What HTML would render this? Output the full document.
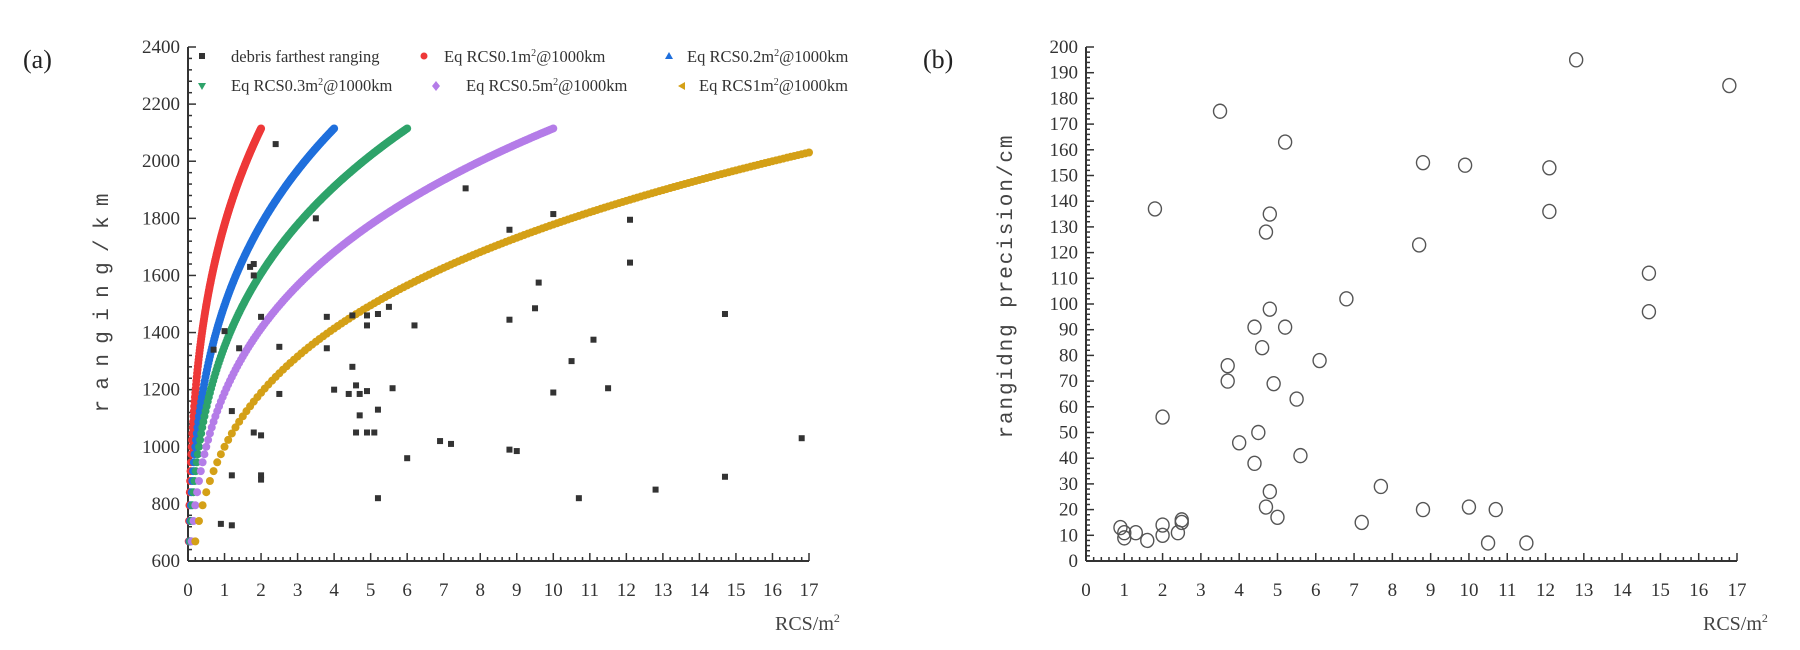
<!DOCTYPE html>
<html><head><meta charset="utf-8"><style>
html,body{margin:0;padding:0;background:#fff;}
svg{display:block;font-family:"Liberation Serif",serif;}
</style></head><body>
<svg id="s" width="1800" height="650" xmlns="http://www.w3.org/2000/svg"></svg>
<script>
const s=document.getElementById('s');let h='';
const L={x0:188,x1:809,y0:561,y1:47};
const R={x0:1086,x1:1737,y0:561,y1:47};
const lx=v=>L.x0+(L.x1-L.x0)*v/17, ly=v=>L.y0-(L.y0-L.y1)*(v-600)/1800;
const rx=v=>R.x0+(R.x1-R.x0)*v/17, ry=v=>R.y0-(R.y0-R.y1)*v/200;
function axes(P,fx,fy,ymin,ymax,ystep,yminor){
 h+=`<line x1="${P.x0}" y1="${P.y0}" x2="${P.x1}" y2="${P.y0}" stroke="#333" stroke-width="2"/>`;
 h+=`<line x1="${P.x0}" y1="${P.y0}" x2="${P.x0}" y2="${P.y1}" stroke="#333" stroke-width="2"/>`;
 for(let i=0;i<=85;i++){const v=i/5,x=fx(v),m=i%5==0;h+=`<line x1="${x}" y1="${P.y0}" x2="${x}" y2="${P.y0-(m?8:4)}" stroke="#333" stroke-width="1.5"/>`;
  if(m)h+=`<text x="${x}" y="596" font-size="19" text-anchor="middle" fill="#333">${v}</text>`;}
 for(let v=ymin;v<=ymax+1e-6;v+=yminor){const y=fy(v),m=Math.abs((v-ymin)%ystep)<1e-6;h+=`<line x1="${P.x0}" y1="${y}" x2="${P.x0+(m?8:4)}" y2="${y}" stroke="#333" stroke-width="1.5"/>`;
  if(m)h+=`<text x="${P.x0-8}" y="${y+6}" font-size="19" text-anchor="end" fill="#333">${v}</text>`;}
}
axes(L,lx,ly,600,2400,200,40);
axes(R,rx,ry,0,200,10,2);
const cs=[[0.1,'#ee3838',2],[0.2,'#1f6fdc',4],[0.3,'#2ea36a',6],[0.5,'#b47ce8',10],[1,'#d4a017',17]];
for(const [s0,c,xm] of cs){for(let k=1;;k++){const x=k*s0*0.1;if(x>xm+1e-9)break;const r=1000*Math.pow(x/s0,0.25);if(r<640)continue;
 h+=`<circle cx="${lx(x)}" cy="${ly(r)}" r="4" fill="${c}"/>`;}}
const D=[[2.4,2060],[3.5,1800],[7.6,1905],[10,1815],[12.1,1795],[8.8,1760],[12.1,1645],[1.7,1630],[1.8,1640],[1.8,1600],[9.6,1575],[2,1455],[3.8,1455],[4.5,1460],[4.9,1460],[5.2,1465],[5.5,1490],[9.5,1485],[8.8,1445],[4.9,1425],[6.2,1425],[14.7,1465],[1,1405],[0.7,1340],[1.4,1345],[2.5,1350],[3.8,1345],[11.1,1375],[10.5,1300],[4.5,1280],[4.0,1200],[4.4,1185],[4.6,1215],[4.7,1185],[4.9,1195],[5.6,1205],[2.5,1185],[10,1190],[11.5,1205],[1.2,1125],[4.7,1110],[5.2,1130],[1.8,1050],[2,1040],[4.6,1050],[4.9,1050],[5.1,1050],[6.9,1020],[7.2,1010],[8.8,990],[9,985],[16.8,1030],[6,960],[1.2,900],[2,900],[2,885],[14.7,895],[12.8,850],[5.2,820],[10.7,820],[0.9,730],[1.2,725]];
for(const [x,y] of D)h+=`<rect x="${lx(x)-3}" y="${ly(y)-3}" width="6" height="6" fill="#333"/>`;
const Q=[[0.9,13],[1,9],[1,11],[1.3,11],[1.6,8],[2,10],[2,14],[2.4,11],[2.5,15],[2.5,16],[1.8,137],[2,56],[3.5,175],[3.7,76],[3.7,70],[4,46],[4.4,38],[4.4,91],[4.6,83],[4.5,50],[4.7,128],[4.8,135],[4.8,98],[4.9,69],[4.7,21],[4.8,27],[5,17],[5.2,91],[5.2,163],[5.5,63],[5.6,41],[6.1,78],[6.8,102],[7.2,15],[7.7,29],[8.8,155],[8.7,123],[8.8,20],[9.9,154],[10,21],[10.5,7],[10.7,20],[11.5,7],[12.1,153],[12.1,136],[12.8,195],[14.7,112],[14.7,97],[16.8,185]];
for(const [x,y] of Q)h+=`<ellipse cx="${rx(x)}" cy="${ry(y)}" rx="6.5" ry="7" fill="none" stroke="#555" stroke-width="1.4"/>`;
const fs=16.5;
h+=`<rect x="199" y="53" width="6" height="6" fill="#333"/><text x="231" y="62" font-size="${fs}" fill="#333">debris farthest ranging</text>`;
h+=`<circle cx="424" cy="56" r="3.5" fill="#ee3838"/><text x="444" y="62" font-size="${fs}" fill="#333">Eq RCS0.1m<tspan dy="-6" font-size="10">2</tspan><tspan dy="6">@1000km</tspan></text>`;
h+=`<polygon points="669,52 673,59 665,59" fill="#1f6fdc"/><text x="687" y="62" font-size="${fs}" fill="#333">Eq RCS0.2m<tspan dy="-6" font-size="10">2</tspan><tspan dy="6">@1000km</tspan></text>`;
h+=`<polygon points="198,83 206,83 202,90" fill="#2ea36a"/><text x="231" y="91" font-size="${fs}" fill="#333">Eq RCS0.3m<tspan dy="-6" font-size="10">2</tspan><tspan dy="6">@1000km</tspan></text>`;
h+=`<polygon points="436,81 440,86 436,91 432,86" fill="#b47ce8"/><text x="466" y="91" font-size="${fs}" fill="#333">Eq RCS0.5m<tspan dy="-6" font-size="10">2</tspan><tspan dy="6">@1000km</tspan></text>`;
h+=`<polygon points="685,82 685,90 678,86" fill="#d4a017"/><text x="699" y="91" font-size="${fs}" fill="#333">Eq RCS1m<tspan dy="-6" font-size="10">2</tspan><tspan dy="6">@1000km</tspan></text>`;
h+=`<text x="23" y="68" font-size="26" fill="#222">(a)</text><text x="923" y="68" font-size="26" fill="#222">(b)</text>`;
h+=`<text transform="translate(108,303) rotate(-90)" font-size="21" text-anchor="middle" fill="#444" textLength="219" lengthAdjust="spacing" font-family="Liberation Mono,monospace">ranging/km</text>`;
h+=`<text transform="translate(1012,287) rotate(-90)" font-size="21" text-anchor="middle" fill="#444" textLength="303" lengthAdjust="spacing" font-family="Liberation Mono,monospace">rangidng precision/cm</text>`;
h+=`<text x="775" y="630" font-size="20" fill="#444">RCS/m<tspan dy="-8" font-size="12">2</tspan></text>`;
h+=`<text x="1703" y="630" font-size="20" fill="#444">RCS/m<tspan dy="-8" font-size="12">2</tspan></text>`;
s.innerHTML=h;
</script>
</body></html>
